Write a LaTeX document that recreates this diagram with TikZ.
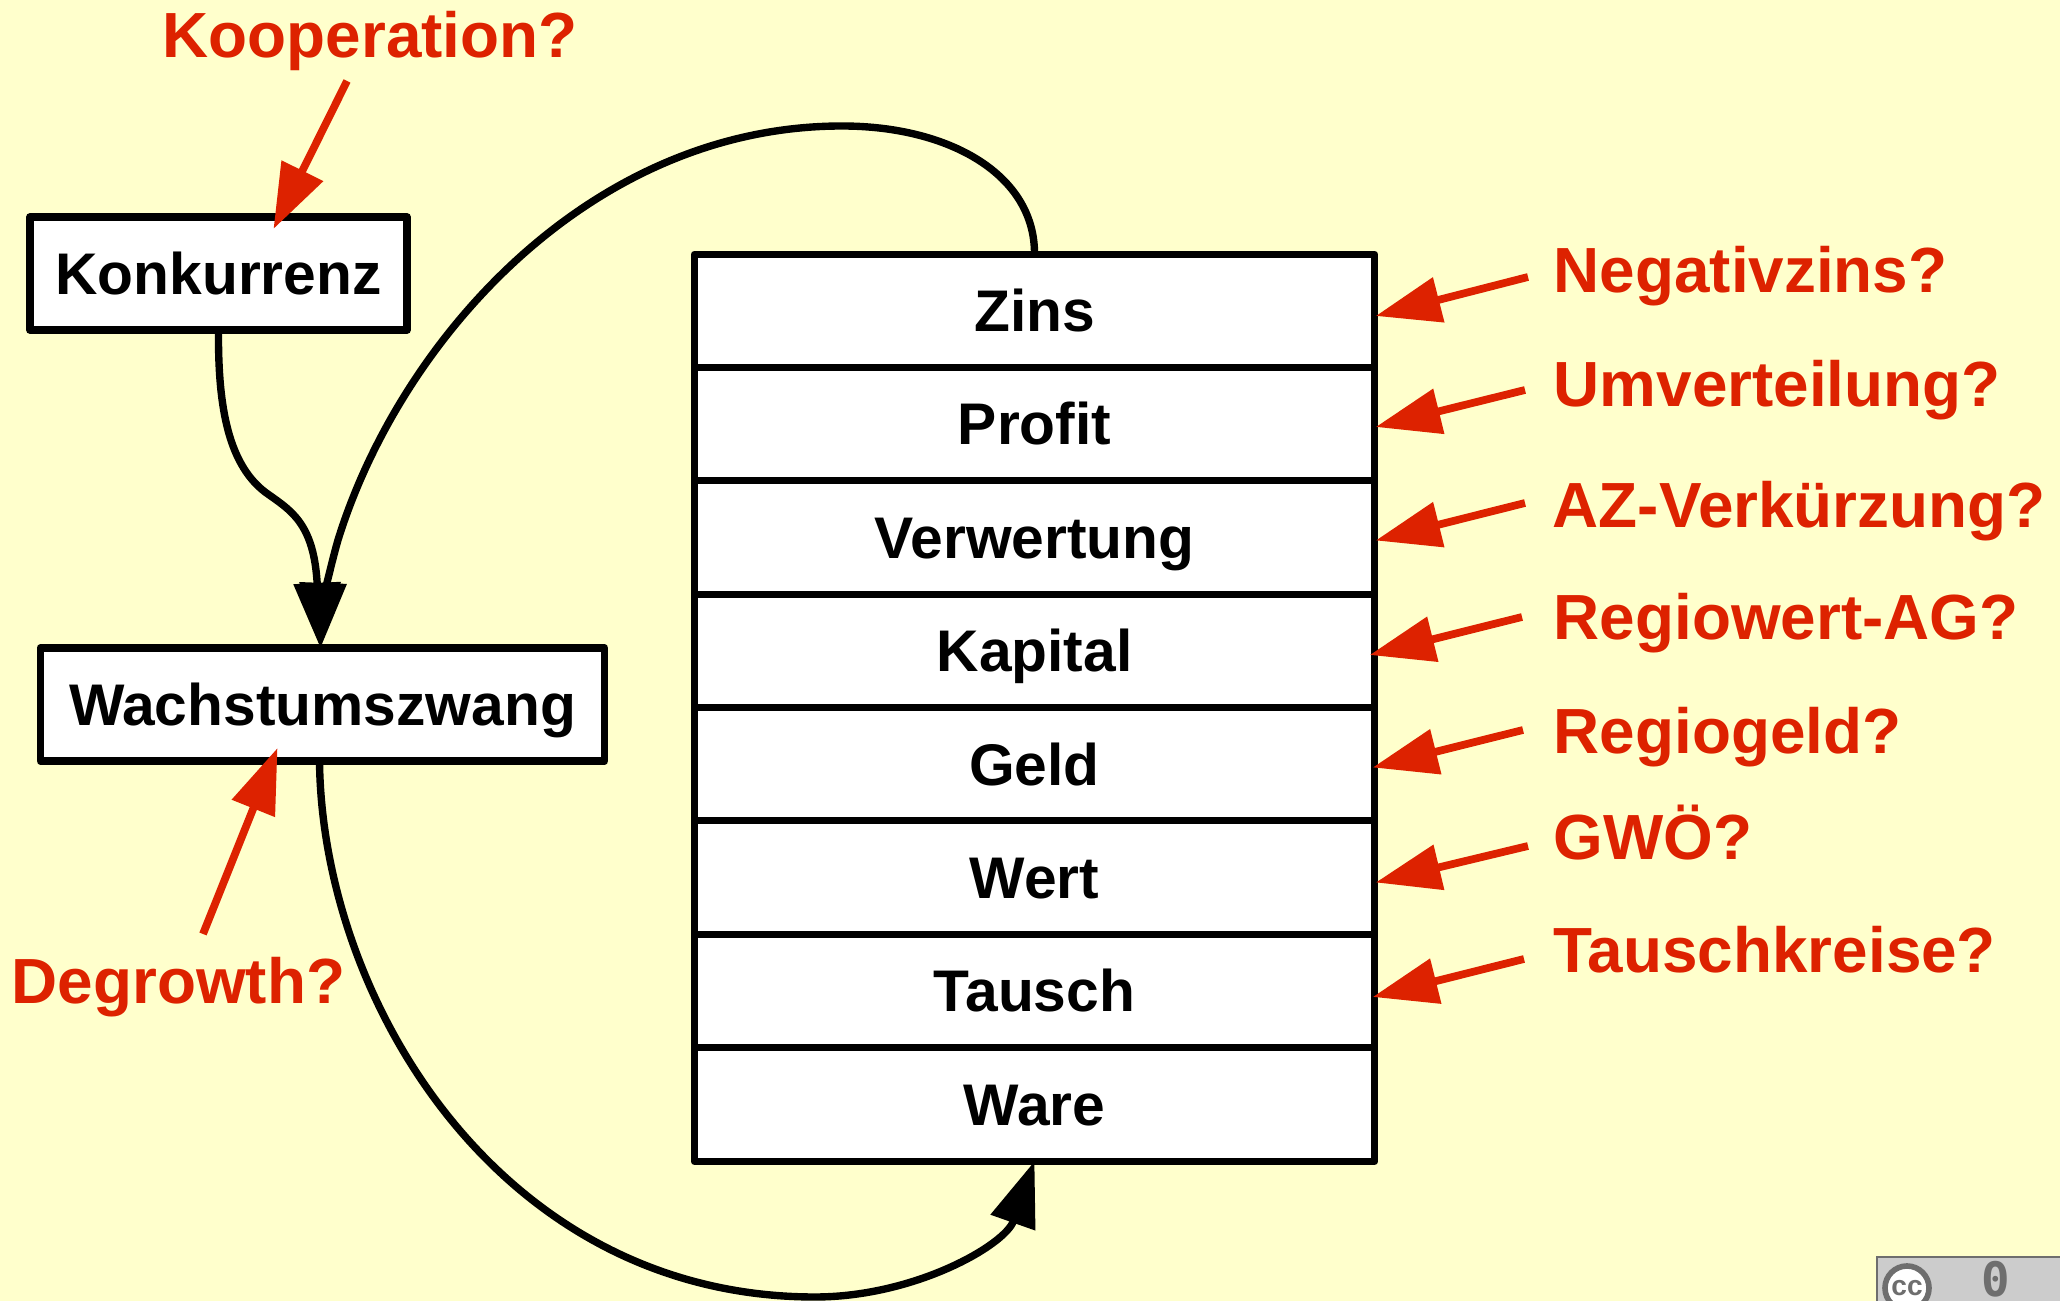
\documentclass[tikz,border=0pt]{standalone}
\usepackage{fontspec}
\usepackage{color}
\usetikzlibrary{arrows.meta}
\setmainfont{Liberation Sans}
\newfontfamily\badgefont{DejaVu Sans Mono}
\definecolor{pagebg}{HTML}{FFFFCC}
\definecolor{asksred}{HTML}{DD2200}
\definecolor{badgegray}{HTML}{CCCCCC}
\definecolor{badgedark}{HTML}{6E6E6E}
\tikzset{
	rowbox/.style={draw=black, fill=white, line width=2.1pt, line join=round, outer sep=0pt, inner sep=0pt,
		minimum width=6.8cm, minimum height=1.135cm, text height=0.415cm, text depth=0cm, font=\fontsize{16.7}{18}\selectfont\bfseries},
	mainbox/.style={rowbox, minimum height=1.13cm},
	asks/.style={anchor=base west, inner sep=0pt, text=asksred, font=\fontsize{18.15}{20}\selectfont\bfseries},
	flow/.style={draw=black, line width=2.1pt, -{Triangle[length=18.5pt,width=13pt]}},
	askarrow/.style={draw=asksred, line width=2.2pt, -{Triangle[length=18.5pt,width=12.7pt]}}
}
\begin{document}
\begin{tikzpicture}[x=0.01cm,y=-0.01cm]
	\fill [pagebg] (0,0) rectangle (2060,1301);
	\useasboundingbox (0,0) rectangle (2060,1301);
	\clip (0,0) rectangle (2060,1301);
	% the stack
	\node [rowbox] (zins) at (1034.5,311) {Zins};
	\node [rowbox] (profit) at (1034.5,424) {Profit};
	\node [rowbox] (verwertung) at (1034.5,537.5) {Verwertung};
	\node [rowbox] (kapital) at (1034.5,651) {Kapital};
	\node [rowbox] (geld) at (1034.5,764.5) {Geld};
	\node [rowbox] (wert) at (1034.5,877.5) {Wert};
	\node [rowbox] (tausch) at (1034.5,991) {Tausch};
	\node [rowbox] (ware) at (1034.5,1104.5) {Ware};
	% left boxes
	\node [mainbox, minimum width=3.77cm] (konkurrenz) at (218.5,273.5) {Konkurrenz};
	\node [mainbox, minimum width=5.64cm] (wachstum) at (322.5,704.5) {Wachstumszwang};
	% black curves
	\draw [flow] (konkurrenz.south) .. controls (218,400) and (226,462) .. (265,492) .. controls (290,510) and (314,522) .. ([shift={(-2,0)}]wachstum.north);
	\draw [flow] (zins.north) .. controls (1035,175) and (950,126) .. (842,126) .. controls (590,126) and (400,340) .. (338,540) .. controls (328,575) and (322,610) .. ([shift={(-2,0)}]wachstum.north);
	\draw [flow] ([shift={(-3,0)}]wachstum.south) .. controls (322,1000) and (500,1297) .. (815,1297) .. controls (915,1297) and (1005,1245) .. (ware.south);
	% red labels
	\node [asks] (kooperation) at (162,58) {Kooperation?};
	\node [asks] (negativzins) at (1553,293) {Negativzins?};
	\node [asks] (umverteilung) at (1553,407) {Umverteilung?};
	\node [asks] (azverk) at (1552,528) {AZ-Verkürzung?};
	\node [asks] (regiowert) at (1553,640) {Regiowert-AG?};
	\node [asks] (regiogeld) at (1553,754) {Regiogeld?};
	\node [asks] (gwoe) at (1553,860) {GWÖ?};
	\node [asks] (tauschkreise) at (1553,973) {Tauschkreise?};
	\node [asks] (degrowth) at (11,1004) {Degrowth?};
	% red arrows
	\coordinate (kooperationtail) at (347,81);
	\coordinate (negativzinstail) at (1528,277);
	\coordinate (umverteilungtail) at (1525,390);
	\coordinate (azverktail) at (1525,503);
	\coordinate (regiowerttail) at (1522,617);
	\coordinate (regiogeldtail) at (1523,730);
	\coordinate (gwoetail) at (1528,846);
	\coordinate (tauschkreisetail) at (1524,959);
	\coordinate (degrowthtail) at (203,934);
	\draw [askarrow] (kooperationtail) -- ([shift={(55,12)}]konkurrenz.north);
	\draw [askarrow] (negativzinstail) -- ([shift={(1,5)}]zins.east);
	\draw [askarrow] (umverteilungtail) -- ([shift={(1,3)}]profit.east);
	\draw [askarrow] (azverktail) -- ([shift={(1,3)}]verwertung.east);
	\draw [askarrow] (regiowerttail) -- ([shift={(-5,4)}]kapital.east);
	\draw [askarrow] (regiogeldtail) -- ([shift={(-2,3)}]geld.east);
	\draw [askarrow] (gwoetail) -- ([shift={(1,5)}]wert.east);
	\draw [askarrow] (tauschkreisetail) -- ([shift={(-2,6)}]tausch.east);
	\draw [askarrow] (degrowthtail) -- ([shift={(-45,-13)}]wachstum.south);
	% licence badge
	\draw [fill=badgegray, draw=badgedark, line width=0.6pt] (1877,1257) rectangle (2070,1310);
	\node [circle, draw=badgedark, fill=white, line width=1.6pt, minimum size=0.44cm, inner sep=0pt, text=badgedark, font=\fontsize{8}{8}\selectfont\bfseries] (badgecc) at (1907,1288) {cc};
	\node [inner sep=0pt, text=badgedark, font=\fontsize{13.5}{14}\selectfont\badgefont\bfseries] (badgezero) at (1996,1279) {0};
\end{tikzpicture}
\end{document}
